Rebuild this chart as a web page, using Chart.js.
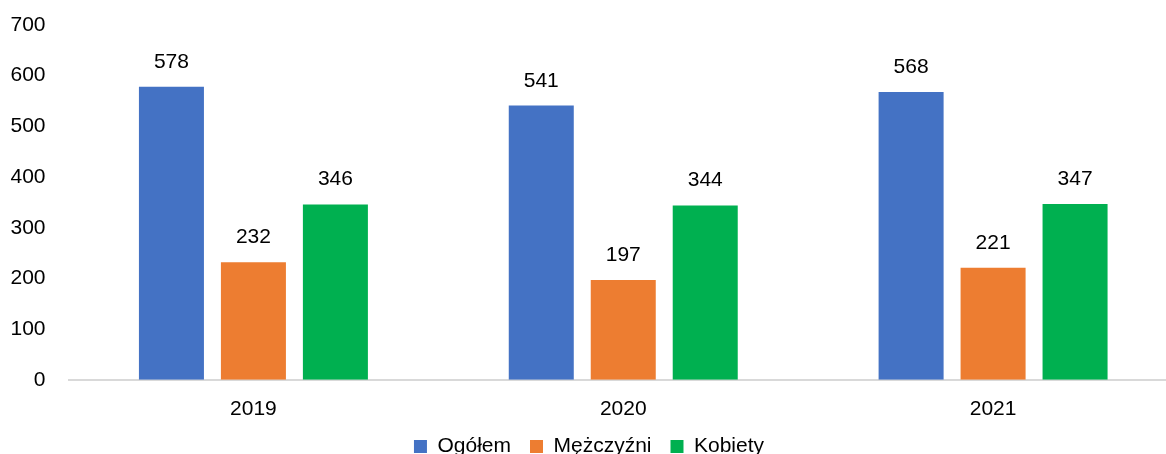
<!DOCTYPE html>
<html>
<head>
<meta charset="utf-8">
<script src="https://cdn.jsdelivr.net/npm/chart.js@4"></script>
<style>
    html, body { margin: 0; padding: 0; background: #fff; overflow: hidden; width: 1166px; height: 454px; }
    #wrap { position: absolute; left: 0; top: 0; width: 1180px; height: 489px; }
</style>
</head>
<body>
<div id="wrap"><canvas id="chart"></canvas></div>
<script>
// Chart data
const years = ['2019', '2020', '2021'];
const ogolem = [578, 541, 568];
const mezczyzni = [232, 197, 221];
const kobiety = [346, 344, 347];
const yTicks = [0, 100, 200, 300, 400, 500, 600, 700];

const FONT = "'Liberation Sans', Arial, sans-serif";

// Draw values above each bar
const valueLabels = {
    id: 'valueLabels',
    afterDatasetsDraw(chart) {
        const ctx = chart.ctx;
        ctx.save();
        ctx.font = `21px ${FONT}`;
        ctx.fillStyle = '#000';
        ctx.textAlign = 'center';
        ctx.textBaseline = 'alphabetic';
        chart.data.datasets.forEach((ds, i) => {
            chart.getDatasetMeta(i).data.forEach((bar, j) => {
                ctx.fillText(ds.data[j], bar.x, bar.y - 19);
            });
        });
        ctx.restore();
    }
};

// Legend item padding also adds vertical space, so pull the legend up closer to the axis
const LEGEND_SHIFT = 22;
const legendShift = {
    id: 'legendShift',
    afterLayout(chart) {
        chart.legend.top -= LEGEND_SHIFT;
        chart.legend.bottom -= LEGEND_SHIFT;
    }
};

new Chart(document.getElementById('chart'), {
    type: 'bar',
    data: {
        labels: years,
        datasets: [
            { label: 'Ogółem', data: ogolem, backgroundColor: '#4472C4' },
            { label: 'Mężczyźni', data: mezczyzni, backgroundColor: '#ED7D31' },
            { label: 'Kobiety', data: kobiety, backgroundColor: '#00B050' }
        ]
    },
    options: {
        responsive: true,
        maintainAspectRatio: false,
        animation: false,
        categoryPercentage: 0.665,
        barPercentage: 0.793,
        layout: { padding: { top: 25, right: 2, left: 0, bottom: 0 } },
        plugins: {
            tooltip: { enabled: false },
            legend: {
                position: 'bottom',
                labels: {
                    font: { family: FONT, size: 21 },
                    color: '#000',
                    boxWidth: 13,
                    boxHeight: 13,
                    padding: 19
                }
            }
        },
        scales: {
            x: {
                grid: { display: false, drawTicks: false },
                border: { display: true, color: '#d9d9d9', width: 2 },
                ticks: { font: { family: FONT, size: 21 }, color: '#000', padding: 17 }
            },
            y: {
                min: 0,
                max: 700,
                afterBuildTicks: (s) => { s.ticks = yTicks.map(v => ({ value: v })); },
                afterFit: (s) => { s.width = 68.5; s.paddingTop = 0; s.paddingBottom = 0; },
                grid: { display: false, drawTicks: false },
                border: { display: false },
                ticks: { font: { family: FONT, size: 21 }, color: '#000', padding: 23 }
            }
        }
    },
    plugins: [valueLabels, legendShift]
});
</script>
</body>
</html>
